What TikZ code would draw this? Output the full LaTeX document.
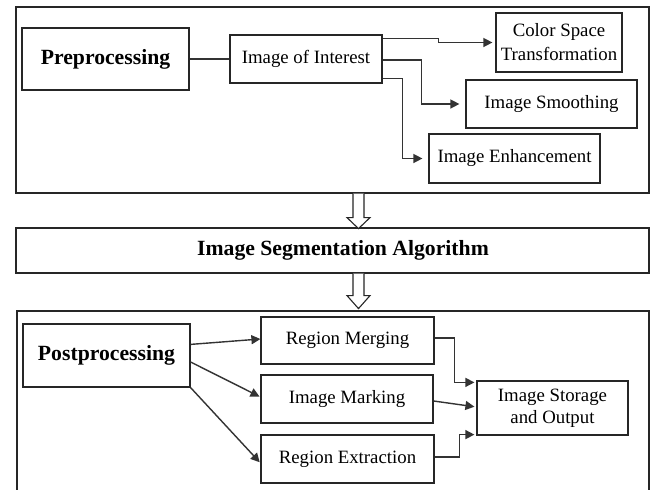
\documentclass[tikz,border=0pt]{standalone}
\usepackage{fontspec}
\setmainfont{Liberation Serif}
\usetikzlibrary{arrows.meta,calc}
\begin{document}
\begin{tikzpicture}[x=1pt,y=-1pt,
  box/.style={draw=black!85,line width=1.2pt,inner sep=0pt,fill=none},
  txt/.style={font=\fontsize{18.8}{24}\selectfont,align=center},
  btxt/.style={font=\bfseries\fontsize{21.7}{26}\selectfont},
  link/.style={draw=black!80,line width=1.4pt},
  conn/.style={link,-{Triangle[length=9pt,width=9pt]}},
  hollow/.style={draw=black!85,line width=1.1pt,fill=white}
]
\useasboundingbox (0,0) rectangle (654,490);
\fill[white] (0,0) rectangle (654,490);

% top frame
\node[box,minimum width=633pt,minimum height=186pt] (f1) at (332.5,100) {};
\node[box,btxt,minimum width=167pt,minimum height=62pt] (pre) at (105.5,59) {Preprocessing};
\node[box,txt,minimum width=152pt,minimum height=48pt] (ioi) at (306,59) {Image of Interest};
\node[box,txt,minimum width=126pt,minimum height=59pt] (cst) at (559,42.5) {Color Space\\Transformation};
\node[box,txt,minimum width=171pt,minimum height=48pt] (smooth) at (551.5,104) {Image Smoothing};
\node[box,txt,minimum width=171pt,minimum height=49pt] (enh) at (514.5,158.5) {Image Enhancement};

\draw[link] (pre.east) -- (ioi.west);
\draw[conn,shorten >=3pt] ($(ioi.north east)+(0,4)$) -- ++(56,0) |- (cst.west);
\draw[conn,shorten >=6pt] ($(ioi.east)+(0,1)$) -- ++(39,0) |- (smooth.west);
\draw[conn,shorten >=6pt] ($(ioi.south east)+(0,-5)$) -- ++(20,0) |- (enh.west);

% segmentation
\node[box,minimum width=633pt,minimum height=45pt] (seg) at (332.5,250.5) {};
\node[btxt] (segt) at (343,250.5) {Image Segmentation Algorithm};

% hollow arrows
\coordinate (h1) at ($(f1.south)+(26,0)$);
\draw[hollow] ($(h1)+(-5.5,0)$) -- ++(0,24) -- ++(-6,0) -- ++(11.5,11) -- ++(11.5,-11) -- ++(-6,0) -- ++(0,-24);
\coordinate (h2) at ($(seg.south)+(26,0)$);
\draw[hollow] ($(h2)+(-5.5,0)$) -- ++(0,22) -- ++(-6,0) -- ++(11.5,13) -- ++(11.5,-13) -- ++(-6,0) -- ++(0,-22);

% bottom frame (open at the bottom edge of the picture)
\draw[draw=black!85,line width=1.2pt] (17,490) -- (17,311) -- (649,311) -- (649,490);
\node[box,btxt,minimum width=167pt,minimum height=63pt] (post) at (106.5,355.5) {Postprocessing};
\node[box,txt,minimum width=173pt,minimum height=47pt] (rm) at (347.5,340.5) {Region Merging};
\node[box,txt,minimum width=172pt,minimum height=48pt] (im) at (347,399) {Image Marking};
\node[box,txt,minimum width=173pt,minimum height=48pt] (re) at (347.5,459) {Region Extraction};
\node[box,txt,font=\fontsize{18.8}{22}\selectfont,minimum width=151pt,minimum height=54pt] (sto) at (552.5,408) {Image Storage\\and Output};

\draw[conn] ($(post.north east)+(0,21)$) -- ($(rm.west)+(0,-1.5)$);
\draw[conn,shorten >=1pt] ($(post.east)+(0,6.5)$) -- ($(im.west)+(0,-2)$);
\draw[conn,shorten >=1pt] (post.south east) -- ($(re.west)+(0,4)$);
\draw[conn,shorten >=2pt] ($(rm.east)+(0,-2.5)$) -- ++(20,0) |- ($(sto.north west)+(0,2)$);
\draw[conn,shorten >=2pt] ($(im.east)+(0,2)$) -- ($(sto.west)+(0,-1)$);
\draw[conn,shorten >=2pt] ($(re.east)+(0,-2)$) -- ++(25,0) |- ($(sto.south west)+(0,-1)$);
\end{tikzpicture}
\end{document}
